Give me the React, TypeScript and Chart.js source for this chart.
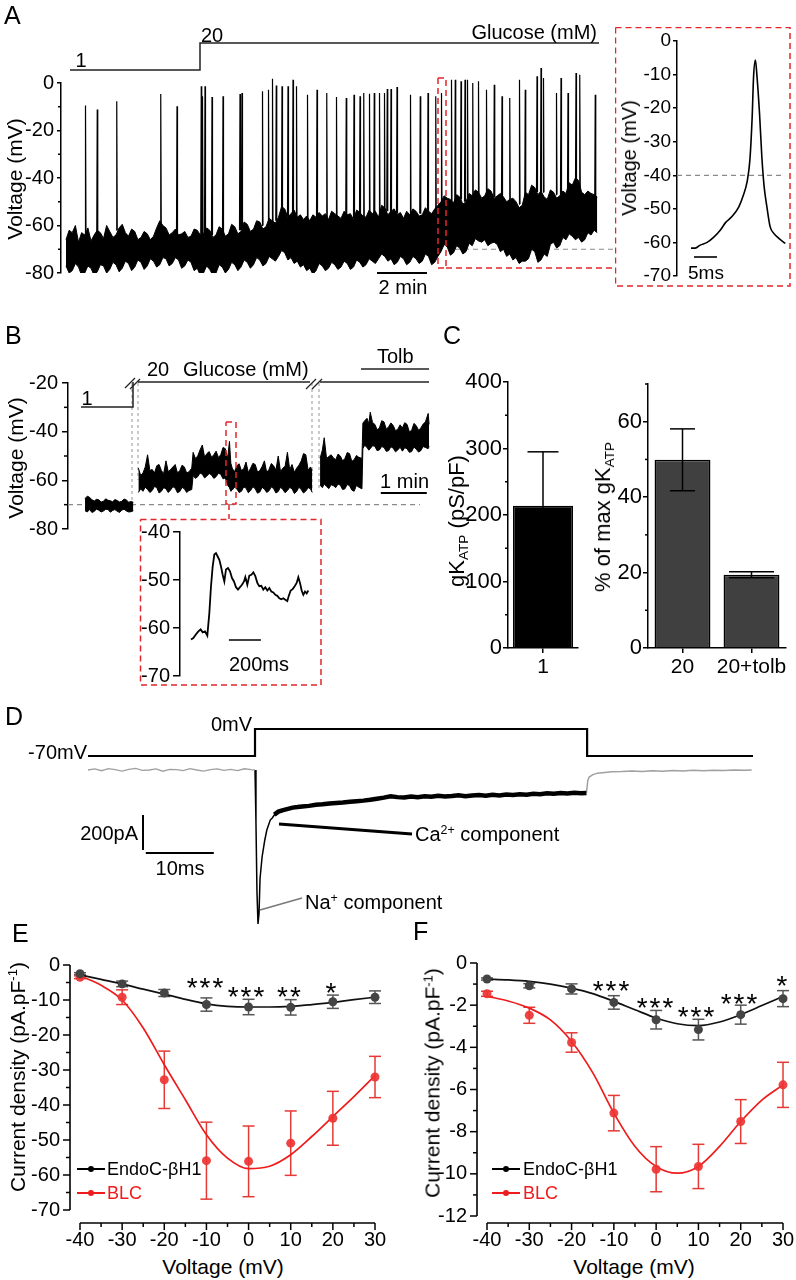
import React, { useEffect, useRef } from "react";
import { Chart, registerables } from "chart.js";

Chart.register(...registerables);

const FONT = '"Liberation Sans", Arial, Helvetica, sans-serif';
Chart.defaults.font.family = FONT;
Chart.defaults.color = "#000";

/* ============================ DATA ============================ */
// Panel A: membrane potential band [time (min), low (mV), high (mV)]
const aTraceBand = [
  [0.2, -77, -66], [0.325, -80, -62], [0.45, -79, -63], [0.575, -76, -60], [0.7, -77.5, -67],
  [0.825, -81, -63], [0.95, -80, -64], [1.075, -77, -61], [1.2, -78, -66.5], [1.325, -81, -64],
  [1.45, -79.5, -62], [1.575, -76.5, -63], [1.7, -77, -65.5], [1.825, -80, -60], [1.95, -78.5, -62.5],
  [2.075, -75.5, -65], [2.2, -76.5, -64], [2.325, -79.5, -61], [2.45, -78, -59.5], [2.575, -75, -63],
  [2.7, -76, -64.5], [2.825, -79, -61.5], [2.95, -77.5, -62.5], [3.075, -74.5, -66], [3.2, -75.5, -65],
  [3.325, -78.5, -62.5], [3.45, -77, -63.5], [3.575, -74, -66], [3.7, -75, -64.5], [3.825, -77.5, -61],
  [3.95, -76.5, -58], [4.075, -73.5, -60], [4.2, -74, -61], [4.325, -77, -64], [4.45, -76, -63],
  [4.575, -73.5, -61.5], [4.7, -74.5, -64], [4.825, -78, -63.5], [4.95, -77, -62.5], [5.075, -74.5, -65],
  [5.2, -75.5, -64.5], [5.325, -79, -61.5], [5.45, -78, -62], [5.575, -81, -64], [5.7, -80, -63.5],
  [5.825, -77, -61], [5.95, -78.5, -62], [6.075, -81, -65], [6.2, -80, -64], [6.325, -76.5, -60.5],
  [6.45, -77.5, -61.5], [6.575, -80, -64.5], [6.7, -78.5, -63.5], [6.825, -75.5, -59.5], [6.95, -76.5, -60.5],
  [7.075, -79, -63.5], [7.2, -77.5, -62.5], [7.325, -74.5, -58.5], [7.45, -75.5, -59.5], [7.575, -78, -62.5],
  [7.7, -76.5, -61.5], [7.825, -73.5, -58], [7.95, -74.5, -58.5], [8.075, -77, -61.5], [8.2, -76, -60.5],
  [8.325, -73, -57], [8.45, -74, -58], [8.575, -75, -59], [8.7, -73, -56.5], [8.825, -70.5, -52],
  [8.95, -71.5, -53], [9.075, -74.5, -56.5], [9.2, -73.5, -55], [9.325, -76, -53.5], [9.45, -75, -56.5],
  [9.575, -77.5, -55.5], [9.7, -76.5, -57.5], [9.825, -79, -56], [9.95, -78, -58], [10.075, -80.5, -55.5],
  [10.2, -79, -56.5], [10.325, -76, -54.5], [10.45, -77, -56], [10.575, -79, -55], [10.7, -78, -57.5],
  [10.825, -75.5, -54], [10.95, -76.5, -55], [11.075, -78.5, -56], [11.2, -77.5, -57], [11.325, -75, -54],
  [11.45, -76, -55.5], [11.575, -78.5, -55], [11.7, -77.5, -57.5], [11.825, -74.5, -53.5], [11.95, -75.5, -54.5],
  [12.075, -77.5, -56], [12.2, -76.5, -56.5], [12.325, -74, -53.5], [12.45, -75, -55], [12.575, -76, -54],
  [12.7, -74, -56.5], [12.825, -72, -51.5], [12.95, -73, -52.5], [13.075, -75, -55.5], [13.2, -74, -54],
  [13.325, -76.5, -53], [13.45, -75.5, -55.5], [13.575, -73, -54.5], [13.7, -74, -57], [13.825, -76.5, -54],
  [13.95, -75.5, -55.5], [14.075, -73, -53], [14.2, -74, -54], [14.325, -76, -56], [14.45, -75, -55.5],
  [14.575, -72, -52.5], [14.7, -73, -54], [14.825, -76.5, -55], [14.95, -75.5, -53], [15.075, -73, -51.5],
  [15.2, -71, -50], [15.325, -68, -47.5], [15.45, -69, -48.5], [15.575, -72.5, -49], [15.7, -71.5, -50.5],
  [15.825, -68.5, -47], [15.95, -69.5, -48], [16.075, -72, -51], [16.2, -71, -50], [16.325, -67.5, -46.5],
  [16.45, -68.5, -47.5], [16.575, -65.5, -45], [16.7, -66.5, -46], [16.825, -67, -48.5], [16.95, -66, -47.5],
  [17.075, -68.5, -44.5], [17.2, -67.5, -45.5], [17.325, -67, -48.5], [17.45, -68, -47.5], [17.575, -71, -46.5],
  [17.7, -70, -48], [17.825, -73, -50], [17.95, -72, -49], [18.075, -74.5, -48.5], [18.2, -73.5, -50],
  [18.325, -76, -52.5], [18.45, -75, -51.5], [18.575, -75, -46], [18.7, -74, -47], [18.825, -70, -43],
  [18.95, -71, -44], [19.075, -75.5, -47], [19.2, -74.5, -45.5], [19.325, -72, -48], [19.45, -73, -49],
  [19.575, -68, -45], [19.7, -67, -46], [19.825, -69.5, -48.5], [19.95, -68.5, -47.5], [20.075, -65, -45.5],
  [20.2, -66, -46.5], [20.325, -63.5, -42], [20.45, -64.5, -43], [20.575, -66, -40], [20.7, -65, -41],
  [20.825, -67, -46], [20.95, -66, -47], [21.075, -63, -45.5], [21.2, -64, -46.5], [21.325, -62, -47],
  [21.45, -63, -48],
];
// Panel A: action potentials [time (min), foot (mV), peak (mV)]
const aSpikes = [
  [0.98, -66, -9.5], [1.45, -64, -11.2], [2.23, -62, -7.7], [3.99, -60, -4.6], [4.64, -64, -9.8],
  [5.61, -64, -1.4], [5.66, -64, -5.6], [5.76, -64, -1.4], [6.04, -64, -5.9], [6.48, -63, -5.6],
  [7.16, -62, -4.6], [7.24, -62, -4.2], [8.06, -60, -3.5], [8.3, -60, -2.8], [8.46, -60, 1.8],
  [8.61, -58, -1.1], [8.84, -58, -1.4], [9.08, -56, -1.4], [9.28, -56, 1.4], [9.42, -57, -1.4],
  [9.86, -58, -4.9], [10.24, -58, -2.8], [10.63, -57, -4.2], [11.02, -57, -5.9], [11.41, -57, -6.3],
  [11.72, -57, -4.9], [11.96, -56, -5.6], [12.11, -56, -4.2], [12.34, -57, -4.5], [12.53, -56, -4.2],
  [12.74, -56, -4.2], [12.94, -55, -4.2], [13.05, -54, -2.5], [13.2, -55, -2.5], [13.44, -55, -1.7],
  [13.98, -56, -4.9], [14.37, -55, -5.6], [14.68, -55, -4.2], [14.99, -54, -5.6], [15.22, -52, -4.2],
  [15.62, -50, 1.4], [15.77, -50, 1.4], [16.0, -49, 0.7], [16.16, -50, 1.4], [16.26, -50, 1.4],
  [16.47, -48, 0], [16.7, -47, 0.7], [17.02, -48, -2.8], [17.33, -48, -0.7], [17.64, -48, -5.6],
  [17.95, -49, -6.3], [18.34, -51, 1.4], [18.57, -51, -2.8], [19.04, -46, 2.8], [19.2, -46, 6.3],
  [19.3, -46, 2.1], [19.82, -47, -4.2], [20.0, -47, 2.1], [20.28, -47, -4.2], [20.6, -44, 4.2],
  [20.75, -44, 3.5], [21.37, -48, -4.9],
];
// Panel A inset: single action potential [time (ms), mV]
const aInsetAP = [
  [0, -61.7], [0.94, -61.7], [2.0, -60.8], [3.5, -60], [4.9, -58.5], [6.4, -56.3], [7.5, -54.1],
  [8.9, -52.3], [10.4, -49.4], [11.4, -45.9], [12.2, -41.9], [12.8, -35.5], [13.3, -22.6], [13.6, -10.7],
  [14.0, -5.7], [14.3, -9.7], [14.9, -21.6], [15.4, -34.5], [15.9, -43.4], [16.5, -49.4], [17.2, -55.3],
  [18.0, -57.3], [19.1, -58.8], [20.5, -60.3],
];

// Panel B: membrane potential bands [time (display min), low (mV), high (mV)]
const bGlucose1 = [
  [0.37, -72.5, -67.5], [0.42, -73, -66.5], [0.47, -72, -67], [0.52, -73.2, -68], [0.57, -72.8, -68.5],
  [0.62, -71.8, -67.8], [0.67, -72.3, -68], [0.72, -73, -68.9], [0.77, -72.6, -68.6], [0.82, -71.9, -67.6],
  [0.87, -72, -68.2], [0.92, -73.1, -68.4], [0.97, -72.4, -68.8], [1.02, -72, -67.9], [1.07, -72.7, -68.3],
  [1.12, -73.2, -68.9], [1.17, -72.2, -68.6], [1.22, -71.9, -67.7], [1.27, -72.6, -68.1], [1.32, -73, -69],
  [1.37, -72.9, -68.7], [1.42, -72.5, -69],
];
const bGlucose20 = [
  [1.53, -65, -55], [1.58, -63.5, -58], [1.63, -64.5, -57], [1.68, -62.8, -54.5], [1.73, -63.8, -49.5],
  [1.78, -65, -56], [1.83, -64.2, -55.5], [1.88, -62.5, -57], [1.93, -63, -54], [1.98, -65.2, -53.5],
  [2.03, -64.5, -56], [2.08, -63, -57.2], [2.13, -63.5, -52], [2.18, -65, -56.5], [2.23, -64, -55.5],
  [2.28, -62.6, -54.5], [2.33, -63.2, -53.5], [2.38, -65.1, -57], [2.43, -64.6, -56], [2.48, -62.9, -53.8],
  [2.53, -63.5, -54.5], [2.58, -65, -57], [2.63, -64.2, -56.5], [2.69, -63.8, -55], [2.72, -58, -48.5],
  [2.77, -59.2, -51], [2.82, -58.5, -50], [2.87, -57, -47.5], [2.92, -57.5, -45.5], [2.97, -59, -50.5],
  [3.02, -58.2, -49], [3.07, -57.2, -48.2], [3.12, -57.8, -50.5], [3.17, -59.2, -49.5], [3.22, -58.5, -48],
  [3.27, -57.1, -50.6], [3.32, -57.5, -49.5], [3.37, -59.4, -46.5], [3.42, -59, -47], [3.47, -62, -51],
  [3.51, -63, -44], [3.54, -64.5, -53], [3.57, -64, -55], [3.62, -62.8, -56.5], [3.67, -63.5, -54],
  [3.72, -65, -53.2], [3.77, -64.5, -56], [3.82, -62.7, -55.2], [3.87, -63.2, -52.5], [3.92, -65.1, -56.8],
  [3.97, -64.2, -55], [4.02, -62.6, -53], [4.07, -63.5, -53.5], [4.12, -65.3, -56.6], [4.17, -64.8, -56],
  [4.22, -62.9, -54.3], [4.27, -63.6, -52], [4.32, -65, -56.8], [4.37, -64.3, -55.5], [4.42, -62.7, -53.1],
  [4.47, -63.4, -54], [4.52, -65.2, -55.8], [4.57, -64.6, -50], [4.62, -62.8, -56.4], [4.67, -63.8, -55],
  [4.72, -65.1, -54.2], [4.77, -64.2, -48.5], [4.82, -62.9, -55.6], [4.87, -63.5, -53.5], [4.92, -65.4, -56.7],
  [4.97, -64.6, -55], [5.02, -62.8, -53.8], [5.07, -63.8, -52], [5.12, -65.2, -49], [5.17, -64.4, -49.5],
  [5.22, -63, -55.9], [5.27, -63.5, -54.5], [5.31, -65, -56],
];
const bTolbutamide = [
  [5.48, -62, -51], [5.53, -63, -47.5], [5.57, -61.5, -42.5], [5.62, -62.5, -51], [5.67, -63.4, -50.2],
  [5.72, -61.8, -49.5], [5.77, -62.2, -50.8], [5.82, -63, -51.5], [5.87, -61.5, -49.2], [5.92, -62, -50],
  [5.97, -63.8, -52], [6.02, -63.5, -51], [6.07, -61.7, -48.6], [6.12, -62.2, -49], [6.17, -64, -52.2],
  [6.22, -64.5, -51.5], [6.27, -62.1, -49.8], [6.32, -62.8, -50.5], [6.39, -63.5, -51], [6.41, -47, -36.5],
  [6.45, -45.6, -35.5], [6.5, -46.5, -34.5], [6.54, -47.6, -36.8], [6.57, -47, -32], [6.62, -45.8, -36.2],
  [6.67, -46, -37], [6.72, -47.8, -39.2], [6.77, -47.5, -38.5], [6.82, -46.1, -35.5], [6.87, -46.5, -36],
  [6.92, -48.1, -39], [6.97, -47.8, -38], [7.02, -46.2, -36.4], [7.07, -46.8, -37.5], [7.12, -48.3, -39.6],
  [7.17, -47.5, -39], [7.22, -46.4, -37.2], [7.27, -48, -38.5], [7.32, -46.6, -36.3], [7.37, -47, -37],
  [7.42, -48.5, -40], [7.47, -48.2, -39.5], [7.52, -46.3, -36.6], [7.57, -47.2, -37.5], [7.62, -48.4, -39.4],
  [7.67, -47.8, -38.5], [7.72, -46.1, -36.9], [7.77, -46.5, -36], [7.83, -47, -32.5], [7.85, -46, -37],
];
// Panel B inset [time (ms), mV]
const bInsetTrace = [
  [0, -62.4], [14.6, -62.1], [29.2, -61.4], [45.8, -60.7], [60.4, -60.3], [72.9, -60.9], [87.5, -60.7],
  [102, -61.6], [114.6, -56.9], [125, -51.3], [135.4, -47.2], [145.8, -44.7], [156.2, -44.4], [166.7, -45.1],
  [177.1, -45.8], [187.5, -47.2], [197.9, -48.9], [208.3, -50.3], [218.7, -47.8], [231.2, -47.5], [243.7, -48.2],
  [256.2, -49.6], [268.7, -50.3], [281.2, -51.5], [293.7, -52.0], [306.2, -51.5], [318.7, -51.0], [331.2, -50.3],
  [339.5, -49.4], [352, -51.0], [364.5, -49.1], [377, -48.9], [389.5, -48.4], [402, -49.2], [414.5, -50.6],
  [427, -51.3], [439.5, -51.2], [452, -52.0], [464.5, -51.5], [477, -52.2], [489.5, -51.7], [502, -52.4],
  [514.5, -52.6], [527, -53.1], [539.5, -53.3], [552, -53.8], [564.5, -54.0], [577, -53.8], [589.5, -54.1],
  [602, -54.4], [610.4, -53.4], [622.9, -52.2], [635.4, -51.9], [647.9, -51.3], [660.4, -50.6], [670.8, -49.4],
  [681.2, -50.6], [691.6, -52.2], [702, -53.1], [712.4, -52.4], [722.9, -52.8], [733.3, -52.2],
];

// Panel C
const cLeftLabels = ["1"];
const cLeftValues = [214];
const cLeftErrors = [81];
const cRightLabels = ["20", "20+tolb"];
const cRightValues = [49.9, 19.4];
const cRightErrors = [8.2, 0.8];

// Panel D: voltage command and current
const dCommandTime = [0, 24.56, 24.56, 73.4, 73.4, 97.8];
const dCommandMv = [-70, -70, 0, 0, -70, -70];
const dBaselinePre = [
  [0, 0], [1, 6], [2, -4], [3, 8], [4, 2], [5, -6], [6, 4], [7, 9], [8, -2], [9, 0], [10, 6], [11, -7],
  [12, 4], [13, 2], [14, -4], [15, 8], [16, 0], [17, -6], [18, 2], [19, 6], [20, -2], [21, 4], [22, -4],
  [23, 7], [24, 2], [24.56, 0],
];
const dFastCurrent = [
  [24.56, 0], [24.7, -300], [24.85, -700], [25.0, -880], [25.15, -820], [25.3, -620], [25.6, -497],
  [26.0, -400], [26.3, -343], [26.8, -286], [27.1, -274], [27.6, -246],
];
const dSlowCurrent = [
  [27.4, -255], [28.0, -238], [28.7, -229], [29.4, -222], [30.1, -215], [30.8, -212], [31.5, -208],
  [32.5, -205], [33.5, -199], [34.5, -196], [35.5, -191], [36.5, -188], [37.5, -186], [38.5, -181],
  [39.5, -178], [40.5, -175], [41.5, -170], [42.5, -164], [43.5, -158], [44.5, -150], [45.5, -155],
  [46.5, -157], [47.5, -152], [48.5, -156], [49.5, -150], [50.5, -153], [51.5, -147], [52.5, -152],
  [53.5, -149], [54.5, -145], [55.5, -150], [56.5, -146], [57.5, -143], [58.5, -147], [59.5, -142],
  [60.5, -145], [61.5, -140], [62.5, -143], [63.5, -138], [64.5, -141], [65.5, -136], [66.5, -139],
  [67.5, -133], [68.5, -136], [69.5, -131], [70.5, -134], [71.5, -130], [72.5, -133], [73.3, -131],
];
const dBaselinePost = [
  [73.3, -131], [73.5, -60], [73.7, -40], [74.2, -28], [74.9, -18], [76, -14], [77, -10], [78.5, -9],
  [80, -6], [81.5, -8], [83, -5], [84.5, -7], [86, -3], [87.5, -5], [89, -2], [90.5, -4], [92, -1],
  [93.5, -3], [95, 0], [96.5, -2], [97.6, 0],
];

// Panels E, F: I-V relationships
const ivVoltages = [-40, -30, -20, -10, 0, 10, 20, 30];
const fitVoltages = [-40, -35, -30, -25, -20, -15, -10, -5, 0, 5, 10, 15, 20, 25, 30];
const eEndoMean = [-2.5, -5.4, -8.0, -11.3, -12.0, -12.1, -10.5, -9.2];
const eEndoErr = [0.3, 0.8, 1.0, 1.9, 2.2, 2.2, 1.9, 1.8];
const eBlcMean = [-3.5, -9.2, -32.8, -55.9, -56.1, -50.9, -43.8, -32.0];
const eBlcErr = [0.4, 2.1, 8.2, 11.0, 10.1, 9.2, 7.7, 5.9];
const eEndoFit = [-2.8, -4.1, -5.4, -6.9, -8.3, -9.8, -11.1, -11.8, -12.0, -12.0, -11.8, -11.3, -10.7, -9.9, -9.2];
const eBlcFit = [-3.1, -5.8, -10, -18, -28.5, -38.5, -48.5, -55.2, -58.2, -57.5, -54.2, -49, -43.3, -37.6, -31.6];
const fEndoMean = [-0.76, -1.08, -1.23, -1.87, -2.69, -3.16, -2.45, -1.69];
const fEndoErr = [0.05, 0.1, 0.24, 0.32, 0.44, 0.49, 0.45, 0.38];
const fBlcMean = [-1.46, -2.48, -3.77, -7.12, -9.78, -9.65, -7.52, -5.78];
const fBlcErr = [0.12, 0.38, 0.46, 0.84, 1.07, 1.05, 1.04, 1.07];
const fEndoFit = [-0.76, -0.8, -0.87, -1.0, -1.19, -1.45, -1.82, -2.22, -2.61, -2.88, -2.97, -2.8, -2.45, -2.02, -1.58];
const fBlcFit = [-1.58, -1.8, -2.14, -2.7, -3.72, -5.2, -7.12, -8.7, -9.65, -9.97, -9.65, -8.7, -7.52, -6.5, -5.78];

/* ============================ HELPERS ============================ */
type Rect = { x: number; y: number; w: number; h: number };
type Area = { l: number; t: number; r: number; b: number };
const RED = "#e3262c";

function pl(ctx: any, pts: number[][], color = "#000", width = 1.5, dash: number[] = []) {
  ctx.save();
  ctx.beginPath();
  ctx.strokeStyle = color;
  ctx.lineWidth = width;
  ctx.setLineDash(dash);
  pts.forEach((p, i) => (i ? ctx.lineTo(p[0], p[1]) : ctx.moveTo(p[0], p[1])));
  ctx.stroke();
  ctx.restore();
}
function dashRect(ctx: any, x1: number, y1: number, x2: number, y2: number) {
  pl(ctx, [[x1, y1], [x2, y1], [x2, y2], [x1, y2], [x1, y1]], RED, 1.5, [6, 4]);
}

type DrawFn = (c: any, X: (v: number, id?: string) => number, Y: (v: number, id?: string) => number, ch: any) => void;

// draws in page coordinates; X/Y convert data values to page pixels through the chart's scales
function decor(box: Rect, after?: DrawFn, before?: DrawFn) {
  const run = (chart: any, fn?: DrawFn) => {
    if (!fn) return;
    const c = chart.ctx;
    const X = (v: number, id = "x") => chart.scales[id].getPixelForValue(v) + box.x;
    const Y = (v: number, id = "y") => chart.scales[id].getPixelForValue(v) + box.y;
    c.save();
    c.translate(-box.x, -box.y);
    fn(c, X, Y, chart);
    c.restore();
  };
  return {
    id: "decor",
    beforeDatasetsDraw(chart: any) {
      run(chart, before);
    },
    afterDatasetsDraw(chart: any) {
      run(chart, after);
    },
  };
}

function baseOpts(box: Rect, area: Area, xH: number, yW: number) {
  return {
    responsive: false,
    maintainAspectRatio: false,
    animation: false,
    events: [],
    layout: {
      autoPadding: false,
      padding: {
        left: area.l - box.x - yW,
        top: area.t - box.y,
        right: box.x + box.w - area.r,
        bottom: box.y + box.h - area.b - xH,
      },
    },
    plugins: { legend: { display: false }, tooltip: { enabled: false } },
    elements: { point: { radius: 0 }, line: { tension: 0 } },
  };
}

function yAxis(box: Rect, area: Area, min: number, max: number, step: number, size: number, tick: number, pad: number) {
  return {
    type: "linear",
    min,
    max,
    ticks: { stepSize: step, padding: pad, font: { size }, includeBounds: false },
    grid: { drawOnChartArea: false, drawTicks: true, tickLength: tick, color: "#000", lineWidth: 1.5 },
    border: { display: true, color: "#000", width: 1.5 },
    afterFit: (s: any) => {
      s.width = area.l - box.x;
    },
  };
}

const xy = (arr: number[][], k = 1) => arr.map((p) => ({ x: p[0], y: p[k] }));

function ChartCanvas({ box, make }: { box: Rect; make: () => any }) {
  const ref = useRef<HTMLCanvasElement | null>(null);
  useEffect(() => {
    const chart = new Chart(ref.current as HTMLCanvasElement, make());
    return () => chart.destroy();
  }, []);
  return (
    <canvas
      ref={ref}
      width={box.w}
      height={box.h}
      style={{ position: "absolute", left: box.x, top: box.y, width: box.w, height: box.h }}
    />
  );
}

function Txt({ x, y, children, size = 20, align = "left", rotate = false, color = "#000", spacing = 0 }: any) {
  const tx = align === "left" ? "0" : align === "center" ? "-50%" : "-100%";
  const transform = rotate ? "translate(-50%, -50%) rotate(-90deg)" : `translate(${tx}, -50%)`;
  return (
    <div
      style={{
        position: "absolute",
        left: x,
        top: y,
        transform,
        fontSize: size,
        lineHeight: 1,
        fontFamily: FONT,
        whiteSpace: "nowrap",
        color,
        letterSpacing: spacing,
      }}
    >
      {children}
    </div>
  );
}
const Sup = ({ children }: any) => (
  <span style={{ fontSize: "0.62em", verticalAlign: "0.55em", lineHeight: 0 }}>{children}</span>
);
const Sub = ({ children }: any) => (
  <span style={{ fontSize: "0.62em", verticalAlign: "-0.3em", lineHeight: 0 }}>{children}</span>
);

/* ============================ PANEL A ============================ */
const boxA: Rect = { x: 0, y: 0, w: 615, h: 300 };
const areaA: Area = { l: 61, t: 83, r: 600, b: 273 };
function makeA() {
  const spikes: any[] = [];
  aSpikes.forEach(([t, foot, peak]) => {
    spikes.push({ x: t - 0.02, y: foot }, { x: t, y: peak }, { x: t + 0.02, y: foot }, { x: t + 0.02, y: null });
  });
  return {
    type: "line",
    data: {
      datasets: [
        { data: xy(aTraceBand, 1), borderColor: "#000", borderWidth: 1, backgroundColor: "#000", fill: "+1" },
        { data: xy(aTraceBand, 2), borderColor: "#000", borderWidth: 1, fill: false },
        { data: spikes, borderColor: "#000", borderWidth: 1.2, fill: false, spanGaps: false, clip: false },
      ],
    },
    options: {
      ...baseOpts(boxA, areaA, 0, areaA.l - boxA.x),
      scales: {
        x: { type: "linear", display: false, min: 0, max: 21.56 },
        y: yAxis(boxA, areaA, -80, 0, 20, 20, 4, 3),
      },
    },
    plugins: [
      decor(
        boxA,
        (c, X, Y) => {
          pl(c, [[70, 70], [200, 70], [200, 43], [599, 43]], "#222", 1.5);
          [-10, -30, -50, -70].forEach((v) => {
            const y = Y(v);
            pl(c, [[58, y], [61, y]]);
          });
          pl(c, [[X(12.64), 273], [X(14.64), 273]], "#000", 1.8);
          dashRect(c, 438, 78, 446, 268);
          pl(c, [[446, 268], [615, 268]], RED, 1.5, [6, 4]);
        },
        (c, X, Y) => {
          const y = Y(-70);
          pl(c, [[455, y], [615, y]], "#8a8a8a", 1.2, [5, 4]);
        }
      ),
    ],
  };
}

const boxAi: Rect = { x: 615, y: 27, w: 181, h: 268 };
const areaAi: Area = { l: 677, t: 41, r: 787, b: 276 };
function makeAi() {
  return {
    type: "line",
    data: {
      datasets: [
        { data: xy(aInsetAP), borderColor: "#000", borderWidth: 1.6, cubicInterpolationMode: "monotone", clip: false },
      ],
    },
    options: {
      ...baseOpts(boxAi, areaAi, 0, areaAi.l - boxAi.x),
      scales: {
        x: { type: "linear", display: false, min: -3.04, max: 20.87 },
        y: yAxis(boxAi, areaAi, -70, 0, 10, 19, 4, 2),
      },
    },
    plugins: [
      decor(
        boxAi,
        (c, X) => {
          dashRect(c, 615.5, 27.5, 790, 286);
          pl(c, [[X(0.65), 257], [X(5.65), 257]], "#000", 1.6);
        },
        (c, X, Y) => {
          const y = Y(-40);
          pl(c, [[677, y], [785, y]], "#8a8a8a", 1.2, [5, 4]);
        }
      ),
    ],
  };
}

/* ============================ PANEL B ============================ */
const boxB: Rect = { x: 0, y: 340, w: 440, h: 212 };
const areaB: Area = { l: 68, t: 383, r: 432, b: 529 };
function makeB() {
  const pair = (arr: number[][]) => [
    { data: xy(arr, 1), borderColor: "#000", borderWidth: 1, backgroundColor: "#000", fill: "+1" },
    { data: xy(arr, 2), borderColor: "#000", borderWidth: 1, fill: false },
  ];
  return {
    type: "line",
    data: { datasets: [...pair(bGlucose1), ...pair(bGlucose20), ...pair(bTolbutamide)] },
    options: {
      ...baseOpts(boxB, areaB, 0, areaB.l - boxB.x),
      scales: {
        x: { type: "linear", display: false, min: 0, max: 7.913 },
        y: yAxis(boxB, areaB, -80, -20, 20, 20, 6, 4),
      },
    },
    plugins: [
      decor(
        boxB,
        (c, X, Y) => {
          pl(c, [[81, 407], [133, 407], [133, 382]], "#222", 1.5);
          pl(c, [[138, 382], [310, 382]], "#222", 1.5);
          pl(c, [[320, 382], [429, 382]], "#222", 1.5);
          pl(c, [[125, 388], [135, 378]], "#222", 1.3);
          pl(c, [[130, 389], [140, 379]], "#222", 1.3);
          pl(c, [[306, 389], [316, 379]], "#222", 1.3);
          pl(c, [[312, 389], [322, 379]], "#222", 1.3);
          pl(c, [[361, 369], [429, 369]], "#222", 1.5);
          [-30, -50, -70].forEach((v) => {
            const y = Y(v);
            pl(c, [[64, y], [68, y]]);
          });
          dashRect(c, 226, 422, 236, 504);
          pl(c, [[229, 504], [229, 519]], RED, 1.5, [6, 4]);
          pl(c, [[X(6.8), 493], [X(7.8), 493]], "#000", 1.8);
        },
        (c, X, Y) => {
          const y = Y(-70);
          pl(c, [[68, y], [420, y]], "#8a8a8a", 1.2, [5, 4]);
          const g = "#a8a8a8";
          pl(c, [[132, 383], [132, 503]], g, 1.2, [3, 3]);
          pl(c, [[138, 383], [138, 480]], g, 1.2, [3, 3]);
          pl(c, [[312, 383], [312, 490]], g, 1.2, [3, 3]);
          pl(c, [[319, 383], [319, 490]], g, 1.2, [3, 3]);
        }
      ),
    ],
  };
}

const boxBi: Rect = { x: 136, y: 512, w: 190, h: 180 };
const areaBi: Area = { l: 180, t: 532, r: 318, b: 676 };
function makeBi() {
  return {
    type: "line",
    data: { datasets: [{ data: xy(bInsetTrace), borderColor: "#000", borderWidth: 1.8, clip: false }] },
    options: {
      ...baseOpts(boxBi, areaBi, 0, areaBi.l - boxBi.x),
      scales: {
        x: { type: "linear", display: false, min: -68.75, max: 793.75 },
        y: yAxis(boxBi, areaBi, -70, -40, 10, 20, 7, 3),
      },
    },
    plugins: [
      decor(boxBi, (c, X) => {
        dashRect(c, 140.5, 519.5, 321, 685);
        pl(c, [[X(237), 640], [X(437), 640]], "#000", 1.6);
      }),
    ],
  };
}

/* ============================ PANEL C ============================ */
function makeBars(box: Rect, area: Area, labels: string[], values: number[], errors: number[], max: number, step: number,
  minor: number[], color: string, barPct: number, caps: number[]) {
  const xH = 34;
  return {
    type: "bar",
    data: {
      labels,
      datasets: [
        {
          data: values,
          backgroundColor: color,
          borderColor: "#000",
          borderWidth: 1.5,
          barPercentage: barPct,
          categoryPercentage: 1,
        },
      ],
    },
    options: {
      ...baseOpts(box, area, xH, area.l - box.x),
      scales: {
        x: {
          type: "category",
          offset: true,
          ticks: { font: { size: 21 }, padding: 2, maxRotation: 0, minRotation: 0, autoSkip: false },
          grid: { offset: false, drawOnChartArea: false, drawTicks: true, tickLength: 5, color: "#000", lineWidth: 1.5 },
          border: { display: true, color: "#000", width: 1.5 },
          afterFit: (s: any) => {
            s.height = xH;
          },
        },
        y: yAxis(box, area, 0, max, step, 22, 5, 1),
      },
    },
    plugins: [
      decor(box, (c, X, Y, ch) => {
        minor.forEach((v) => {
          const y = Y(v);
          pl(c, [[area.l - 3, y], [area.l, y]]);
        });
        const meta = ch.getDatasetMeta(0);
        meta.data.forEach((el: any, i: number) => {
          const x = el.x + box.x;
          const yt = Y(values[i] + errors[i]);
          const yb = Y(values[i] - errors[i]);
          const hw = caps[i] / 2;
          pl(c, [[x, yt], [x, yb]], "#000", 1.5);
          pl(c, [[x - hw, yt], [x + hw, yt]], "#000", 1.5);
          pl(c, [[x - hw, yb], [x + hw, yb]], "#000", 1.5);
        });
      }),
    ],
  };
}
const boxCl: Rect = { x: 440, y: 360, w: 145, h: 320 };
const areaCl: Area = { l: 508, t: 382, r: 578, b: 648 };
const boxCr: Rect = { x: 585, y: 360, w: 211, h: 320 };
const areaCr: Area = { l: 648, t: 384, r: 786, b: 648 };

/* ============================ PANEL D ============================ */
const boxD: Rect = { x: 0, y: 690, w: 796, h: 245 };
const areaD: Area = { l: 60, t: 700, r: 760, b: 930 };
function makeD() {
  return {
    type: "line",
    data: {
      datasets: [
        {
          data: dCommandTime.map((t, i) => ({ x: t, y: dCommandMv[i] })),
          yAxisID: "v",
          borderColor: "#000",
          borderWidth: 2.2,
        },
        { data: xy(dBaselinePre), borderColor: "#a0a0a0", borderWidth: 1.3 },
        { data: xy(dFastCurrent), borderColor: "#000", borderWidth: 1.5 },
        { data: xy(dSlowCurrent), borderColor: "#000", borderWidth: 4.5 },
        { data: xy(dBaselinePost), borderColor: "#a0a0a0", borderWidth: 1.5 },
      ],
    },
    options: {
      ...baseOpts(boxD, areaD, 0, 0),
      scales: {
        x: { type: "linear", display: false, min: -4.118, max: 98.824 },
        y: { type: "linear", display: false, min: -914.29, max: 400 },
        v: { type: "linear", display: false, min: -521.1, max: 75.19 },
      },
    },
    plugins: [
      decor(boxD, (c, X, Y) => {
        pl(c, [[143, Y(-257)], [143, Y(-457)]], "#000", 2);
        pl(c, [[X(8.5), 853], [X(18.5), 853]], "#000", 2);
        pl(c, [[279, 824], [412, 834]], "#000", 3);
        pl(c, [[260, 910], [302, 898]], "#777", 1.5);
      }),
    ],
  };
}

/* ============================ PANELS E, F ============================ */
function makeIV(s: any) {
  const xH = s.box.y + s.box.h - s.area.b;
  const pts = (m: number[]) => ivVoltages.map((v, i) => ({ x: v, y: m[i] }));
  const fit = (f: number[]) => fitVoltages.map((v, i) => ({ x: v, y: f[i] }));
  const AXY = 1223;
  const clear = "rgba(0,0,0,0)";
  return {
    type: "line",
    data: {
      datasets: [
        { data: pts(s.endoMean), showLine: false, pointRadius: 4.5, pointBackgroundColor: "#444", pointBorderWidth: 0, clip: false },
        { data: pts(s.blcMean), showLine: false, pointRadius: 4.5, pointBackgroundColor: "rgba(238,52,52,0.92)", pointBorderWidth: 0, clip: false },
        { data: fit(s.endoFit), borderColor: "#111", borderWidth: 1.7, cubicInterpolationMode: "monotone", clip: false },
        { data: fit(s.blcFit), borderColor: "#ee1c1c", borderWidth: 1.7, cubicInterpolationMode: "monotone", clip: false },
      ],
    },
    options: {
      ...baseOpts(s.box, s.area, xH, s.area.l - s.box.x),
      scales: {
        x: {
          type: "linear",
          min: -40,
          max: 30,
          ticks: { stepSize: 10, padding: 0, font: { size: 20 }, maxRotation: 0 },
          grid: { display: true, drawOnChartArea: false, drawTicks: true, tickLength: s.xPad, color: clear },
          border: { display: false },
          afterFit: (sc: any) => {
            sc.height = xH;
          },
        },
        y: {
          type: "linear",
          min: s.yMin,
          max: 0,
          ticks: { stepSize: s.yStep, padding: 0, font: { size: 20 } },
          grid: { display: true, drawOnChartArea: false, drawTicks: true, tickLength: 20, color: clear },
          border: { display: false },
          afterFit: (sc: any) => {
            sc.width = s.area.l - s.box.x;
          },
        },
      },
    },
    plugins: [
      decor(
        s.box,
        (c) => {
          const lx = s.legendX;
          pl(c, [[lx, 1169], [lx + 28, 1169]], "#000", 2);
          c.fillStyle = "#000";
          c.beginPath();
          c.arc(lx + 14, 1169, 3, 0, Math.PI * 2);
          c.fill();
          pl(c, [[lx, 1193], [lx + 28, 1193]], "#ee1c1c", 2);
          c.fillStyle = "#ee1c1c";
          c.beginPath();
          c.arc(lx + 14, 1193, 3, 0, Math.PI * 2);
          c.fill();
        },
        (c, X, Y) => {
          pl(c, [[s.axisX, Y(0)], [s.axisX, Y(s.yMin)]], "#000", 1.6);
          for (let v = 0; v >= s.yMin - 1e-9; v -= s.yMinor) {
            const y = Y(v);
            const major = Math.abs(Math.round(v / s.yStep) * s.yStep - v) < 1e-9;
            pl(c, [[s.axisX - (major ? 7 : 4), y], [s.axisX, y]], "#000", 1.5);
          }
          pl(c, [[X(-40), AXY], [X(30), AXY]], "#000", 1.6);
          for (let v = -40; v <= 30; v += 5) {
            const x = X(v);
            pl(c, [[x, AXY], [x, AXY + (v % 10 === 0 ? 7 : 4)]], "#000", 1.5);
          }
          const eb = (mean: number[], err: number[], color: string) =>
            mean.forEach((m, i) => {
              const x = X(ivVoltages[i]);
              const y1 = Y(m + err[i]);
              const y2 = Y(m - err[i]);
              pl(c, [[x, y1], [x, y2]], color, 1.5);
              pl(c, [[x - 6, y1], [x + 6, y1]], color, 1.5);
              pl(c, [[x - 6, y2], [x + 6, y2]], color, 1.5);
            });
          eb(s.endoMean, s.endoErr, "#555");
          eb(s.blcMean, s.blcErr, "#e53935");
        }
      ),
    ],
  };
}
const specE = {
  box: { x: 0, y: 950, w: 400, h: 300 },
  area: { l: 80, t: 965, r: 375, b: 1210 },
  yMin: -70, yStep: 10, yMinor: 5,
  endoMean: eEndoMean, endoErr: eEndoErr, blcMean: eBlcMean, blcErr: eBlcErr,
  endoFit: eEndoFit, blcFit: eBlcFit, xPad: 18, axisX: 70, legendX: 77,
};
const specF = {
  box: { x: 400, y: 950, w: 396, h: 300 },
  area: { l: 487, t: 963, r: 783, b: 1216 },
  yMin: -12, yStep: 2, yMinor: 1,
  endoMean: fEndoMean, endoErr: fEndoErr, blcMean: fBlcMean, blcErr: fBlcErr,
  endoFit: fEndoFit, blcFit: fBlcFit, xPad: 12, axisX: 477, legendX: 492,
};

/* ============================ APP ============================ */
const Stars = ({ x, y, n }: any) => (
  <Txt x={x} y={y + 6} size={28} align="center" spacing={2}>
    {"*".repeat(n)}
  </Txt>
);

export default function App() {
  return (
    <div style={{ position: "absolute", left: 0, top: 0, width: 796, height: 1280, background: "#fff", overflow: "hidden", fontFamily: FONT }}>
      <ChartCanvas box={boxA} make={makeA} />
      <ChartCanvas box={boxAi} make={makeAi} />
      <ChartCanvas box={boxB} make={makeB} />
      <ChartCanvas box={boxBi} make={makeBi} />
      <ChartCanvas
        box={boxCl}
        make={() => makeBars(boxCl, areaCl, cLeftLabels, cLeftValues, cLeftErrors, 400, 100, [50, 150, 250, 350], "#000", 0.857, [31])}
      />
      <ChartCanvas
        box={boxCr}
        make={() => makeBars(boxCr, areaCr, cRightLabels, cRightValues, cRightErrors, 70, 20, [10, 30, 50, 70], "#404040", 0.81, [25, 45])}
      />
      <ChartCanvas box={boxD} make={makeD} />
      <ChartCanvas box={specE.box} make={() => makeIV(specE)} />
      <ChartCanvas box={specF.box} make={() => makeIV(specF)} />

      {/* Panel A */}
      <Txt x={4} y={15} size={25}>A</Txt>
      <Txt x={81} y={60} align="center">1</Txt>
      <Txt x={201} y={35}>20</Txt>
      <Txt x={597} y={32} align="right">Glucose (mM)</Txt>
      <Txt x={14} y={179} size={21} rotate>Voltage (mV)</Txt>
      <Txt x={403} y={287} align="center">2 min</Txt>
      <Txt x={629} y={158} size={20} rotate>Voltage (mV)</Txt>
      <Txt x={706} y={272} size={19} align="center">5ms</Txt>

      {/* Panel B */}
      <Txt x={5} y={335} size={25}>B</Txt>
      <Txt x={87} y={398} align="center">1</Txt>
      <Txt x={147} y={369}>20</Txt>
      <Txt x={183} y={369}>Glucose (mM)</Txt>
      <Txt x={377} y={356}>Tolb</Txt>
      <Txt x={429} y={481} align="right">1 min</Txt>
      <Txt x={15} y={458} size={21} rotate>Voltage (mV)</Txt>
      <Txt x={259} y={664} align="center">200ms</Txt>

      {/* Panel C */}
      <Txt x={443} y={335} size={25}>C</Txt>
      <Txt x={457} y={521} size={22} rotate>
        gK<Sub>ATP</Sub> (pS/pF)
      </Txt>
      <Txt x={603} y={517} size={22} rotate>
        % of max gK<Sub>ATP</Sub>
      </Txt>

      {/* Panel D */}
      <Txt x={5} y={716} size={25}>D</Txt>
      <Txt x={87} y={752} align="right">-70mV</Txt>
      <Txt x={252} y={724} align="right">0mV</Txt>
      <Txt x={138} y={833} align="right">200pA</Txt>
      <Txt x={180} y={868} align="center">10ms</Txt>
      <Txt x={415} y={834}>
        Ca<Sup>2+</Sup> component
      </Txt>
      <Txt x={305} y={902}>
        Na<Sup>+</Sup> component
      </Txt>

      {/* Panel E */}
      <Txt x={12} y={933} size={25}>E</Txt>
      <Txt x={17} y={1077} size={21} rotate>
        Current density (pA.pF<Sup>-1</Sup>)
      </Txt>
      <Txt x={223} y={1266} size={21} align="center">Voltage (mV)</Txt>
      <Txt x={107} y={1169} size={18}>EndoC-βH1</Txt>
      <Txt x={107} y={1193} size={18} color="#ee1c1c">BLC</Txt>
      <Stars x={206} y={982} n={3} />
      <Stars x={247} y={991} n={3} />
      <Stars x={290} y={991} n={2} />
      <Stars x={332} y={987} n={1} />

      {/* Panel F */}
      <Txt x={413} y={931} size={25}>F</Txt>
      <Txt x={432} y={1083} size={21} rotate>
        Current density (pA.pF<Sup>-1</Sup>)
      </Txt>
      <Txt x={634} y={1266} size={21} align="center">Voltage (mV)</Txt>
      <Txt x={523} y={1169} size={18}>EndoC-βH1</Txt>
      <Txt x={523} y={1193} size={18} color="#ee1c1c">BLC</Txt>
      <Stars x={612} y={985} n={3} />
      <Stars x={656} y={1002} n={3} />
      <Stars x={697} y={1011} n={3} />
      <Stars x={740} y={998} n={3} />
      <Stars x={783} y={980} n={1} />
    </div>
  );
}
